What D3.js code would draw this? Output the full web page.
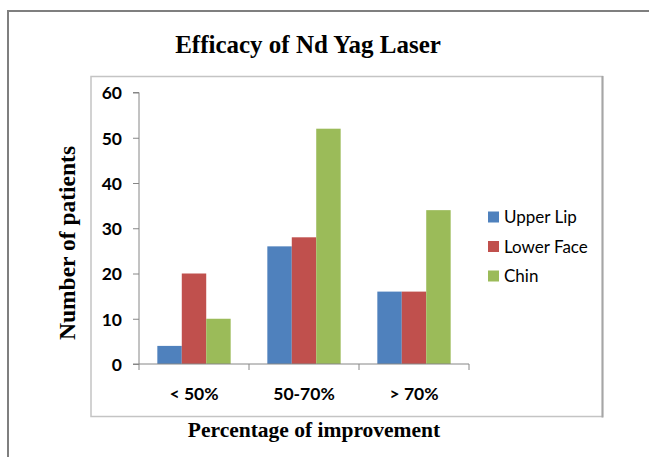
<!DOCTYPE html>
<html lang="en">
<head>
<meta charset="utf-8">
<title>Efficacy of Nd Yag Laser</title>
<script src="https://cdn.jsdelivr.net/npm/d3@7"></script>
<style>
  body { margin: 0; background: #fff; }
  svg { display: block; }
  .tick-label { font-family: Lato, "Open Sans", sans-serif; font-weight: bold; font-size: 17.5px; fill: #000; }
  .serif { font-family: "Liberation Serif", "DejaVu Serif", serif; font-weight: bold; fill: #000; }
  .legend text { font-family: Lato, "Open Sans", sans-serif; font-size: 17px; fill: #000; }
</style>
</head>
<body>
<div id="chart"></div>
<script>
// data
var categories = ["< 50%", "50-70%", "> 70%"];
var series = ["Upper Lip", "Lower Face", "Chin"];
var upperLip = [4, 26, 16];
var lowerFace = [20, 28, 16];
var chin = [10, 52, 34];
var yTicks = [0, 10, 20, 30, 40, 50, 60];
var colors = ["#4f81bd", "#c0504d", "#9bbb59"];

var values = [upperLip, lowerFace, chin];

var w = 649, h = 457;
var svg = d3.select("#chart").append("svg")
    .attr("width", w)
    .attr("height", h);

// outer frame (runs off the right and bottom edges)
svg.append("rect")
   .attr("x", 8).attr("y", 11)
   .attr("width", 700).attr("height", 500)
   .attr("fill", "none")
   .attr("stroke", "#7f7f7f")
   .attr("stroke-width", 2);

// chart area box
svg.append("rect")
   .attr("x", 91).attr("y", 76.5)
   .attr("width", 511.5).attr("height", 340)
   .attr("fill", "none")
   .attr("stroke", "#c4c4c4")
   .attr("stroke-width", 1.5);
svg.append("line")
   .attr("x1", 602.5).attr("x2", 602.5).attr("y1", 76).attr("y2", 417.5)
   .attr("stroke", "#a6a6a6").attr("stroke-width", 2);

// title
svg.append("text")
   .attr("class", "serif")
   .attr("x", 308).attr("y", 53)
   .attr("text-anchor", "middle")
   .style("font-size", "25px")
   .text("Efficacy of Nd Yag Laser");

// scales
var x0 = d3.scaleBand()
    .domain(categories)
    .range([139, 469]);
var x1 = d3.scaleBand()
    .domain(series)
    .range([0, x0.bandwidth()])
    .paddingOuter(0.75);
var y = d3.scaleLinear()
    .domain([0, 60])
    .range([364, 92.5]);

// bars
var groups = svg.append("g").selectAll("g")
    .data(categories)
    .enter().append("g")
    .attr("transform", function(d){ return "translate(" + x0(d) + ",0)"; });

groups.selectAll("rect")
    .data(function(d, i){ return series.map(function(s, j){ return {s: s, v: values[j][i], j: j}; }); })
    .enter().append("rect")
    .attr("x", function(d){ return x1(d.s); })
    .attr("y", function(d){ return y(d.v); })
    .attr("width", x1.bandwidth())
    .attr("height", function(d){ return y(0) - y(d.v); })
    .attr("fill", function(d){ return colors[d.j]; });

// y axis
var yAxis = d3.axisLeft(y).tickValues(yTicks).tickSize(6).tickPadding(11).tickFormat(d3.format("d"));
var gy = svg.append("g")
    .attr("transform", "translate(139,0)")
    .call(yAxis);
gy.select(".domain").attr("stroke", "#868686").attr("d", "M-6,92.5H0V364H-6");
gy.selectAll(".tick line").attr("stroke", "#868686");
gy.selectAll(".tick text").attr("class", "tick-label").attr("dy", "0.36em");

// x axis
var xAxis = d3.axisBottom(x0).tickSize(0).tickPadding(24);
var gx = svg.append("g")
    .attr("transform", "translate(0,364)")
    .call(xAxis);
gx.select(".domain").attr("stroke", "#868686").attr("d", "M139,0H469");
gx.selectAll(".tick text").attr("class", "tick-label");
// category separators
svg.append("g").selectAll("line")
   .data(categories.concat([null]))
   .enter().append("line")
   .attr("x1", function(d){ return d === null ? 469 : x0(d); })
   .attr("x2", function(d){ return d === null ? 469 : x0(d); })
   .attr("y1", 364).attr("y2", 370)
   .attr("stroke", "#868686");

// axis titles
svg.append("text")
   .attr("class", "serif")
   .attr("transform", "translate(75,243) rotate(-90)")
   .attr("text-anchor", "middle")
   .style("font-size", "23.5px")
   .text("Number of patients");
svg.append("text")
   .attr("class", "serif")
   .attr("x", 314).attr("y", 437)
   .attr("text-anchor", "middle")
   .style("font-size", "21.5px")
   .text("Percentage of improvement");

// legend
var legend = svg.append("g").attr("class", "legend")
    .selectAll("g")
    .data(series)
    .enter().append("g")
    .attr("transform", function(d, i){ return "translate(488," + (211.5 + i * 29.5) + ")"; });
legend.append("rect")
    .attr("width", 11).attr("height", 11)
    .attr("fill", function(d, i){ return colors[i]; });
legend.append("text")
    .attr("x", 16).attr("y", 11.5)
    .text(function(d){ return d; });
</script>
</body>
</html>
